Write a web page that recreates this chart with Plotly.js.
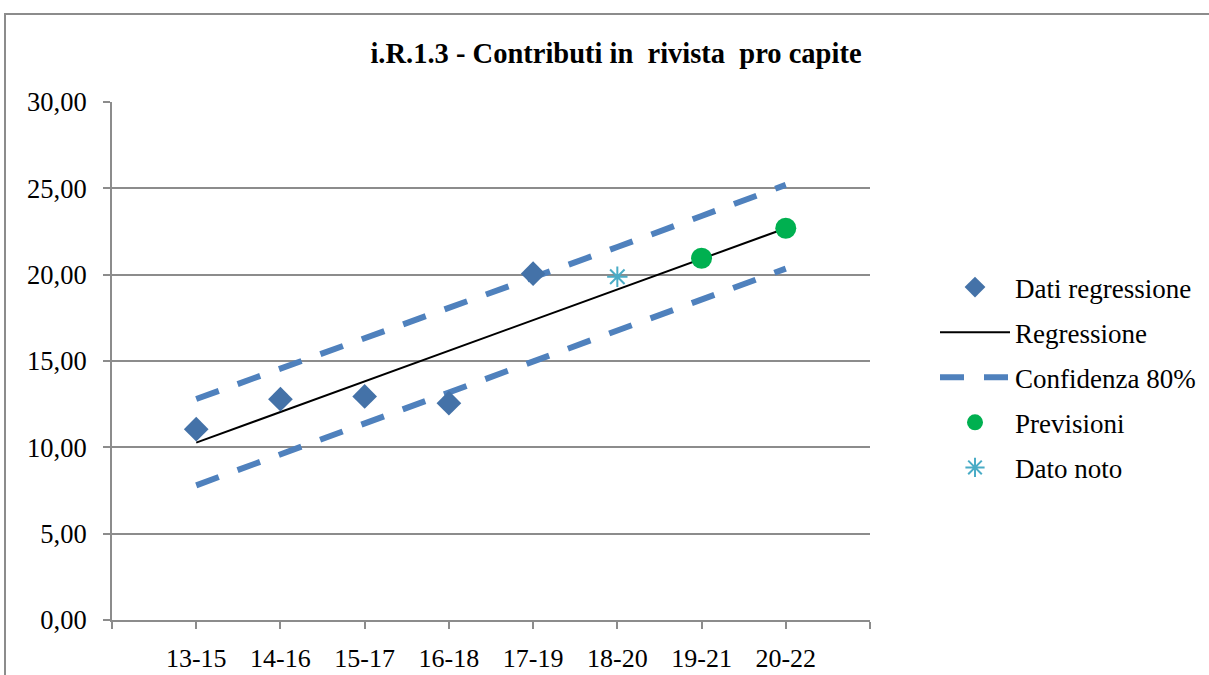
<!DOCTYPE html>
<html>
<head>
<meta charset="utf-8">
<script src="https://cdn.plot.ly/plotly-3.0.1.min.js"></script>
<style>
  html, body { margin:0; padding:0; width:1209px; height:675px; overflow:hidden; background:#fff; }
  #chart { position:absolute; left:0; top:0; width:1209px; height:675px; }
  #frame { position:absolute; left:4px; top:13px; width:1400px; height:900px; border:2px solid #8c8c8c; pointer-events:none; }
</style>
</head>
<body>
<div id="chart"></div>
<div id="frame"></div>
<script>
// ---- data ----
const categories = ["13-15", "14-16", "15-17", "16-18", "17-19", "18-20", "19-21", "20-22"];
const regressionData = [11.05, 12.79, 12.95, 12.56, 20.06];          // Dati regressione (13-15 .. 17-19)
const regressionLine = [10.27, 12.04, 13.82, 15.59, 17.37, 19.14, 20.92, 22.69];
const confUpper = [12.8, 14.55, 16.3, 18.05, 19.85, 21.6, 23.4, 25.2];
const confLower = [7.8, 9.6, 11.4, 13.2, 14.95, 16.75, 18.55, 20.35];
const forecastCats = ["19-21", "20-22"];
const forecastValues = [20.95, 22.69];
const knownCats = ["18-20"];
const knownValues = [19.88];
const yTicks = [0, 5, 10, 15, 20, 25, 30];
const title = "i.R.1.3 - Contributi in  rivista  pro capite";

// category -> position on the axis (1..n), edges at 0 and n+1
const pos = c => categories.indexOf(c) + 1;
const xAll = categories.map(pos);

const serif = "Liberation Serif, Times New Roman, serif";
const gray = "#8c8c8c";

const traces = [
  {
    name: "Dati regressione", legendgroup: "a", legendrank: 1,
    x: categories.slice(0, regressionData.length).map(pos), y: regressionData,
    mode: "markers", type: "scatter",
    marker: { symbol: "diamond", size: 19, color: "#4472a8" }
  },
  {
    name: "Regressione", legendgroup: "b", legendrank: 2,
    x: xAll, y: regressionLine, mode: "lines", type: "scatter",
    line: { color: "#000000", width: 2 }
  },
  {
    name: "Confidenza 80%", legendgroup: "c", legendrank: 3,
    x: xAll, y: confUpper, mode: "lines", type: "scatter",
    line: { color: "#4f81bd", width: 6, dash: "24px,20px" }
  },
  {
    name: "Confidenza 80%", legendgroup: "c", showlegend: false,
    x: xAll, y: confLower, mode: "lines", type: "scatter",
    line: { color: "#4f81bd", width: 6, dash: "24px,20px" }
  },
  {
    name: "Previsioni", legendgroup: "d", legendrank: 4,
    x: forecastCats.map(pos), y: forecastValues, mode: "markers", type: "scatter",
    marker: { symbol: "circle", size: 21, color: "#00b050" }
  },
  {
    name: "Dato noto", legendgroup: "e", legendrank: 5,
    x: knownCats.map(pos), y: knownValues, mode: "markers", type: "scatter",
    marker: { symbol: "asterisk-open", size: 17, color: "#4aacc6", line: { color: "#3c9bb0", width: 2 } }
  }
];

// draw lines first, markers on top
const drawOrder = [traces[1], traces[2], traces[3], traces[0], traces[4], traces[5]];

const layout = {
  width: 1209, height: 675,
  paper_bgcolor: "#ffffff", plot_bgcolor: "#ffffff",
  margin: { l: 112, r: 339, t: 102, b: 55, pad: 0 },
  separators: ",.",
  font: { family: serif, size: 26, color: "#000000" },
  title: {
    text: "<b>" + title + "</b>",
    font: { family: serif, size: 28.5, color: "#000000" },
    xref: "container", yref: "container",
    x: 616 / 1209, xanchor: "center",
    y: 1 - 53 / 675, yanchor: "middle"
  },
  xaxis: {
    range: [0, categories.length + 1],
    tickmode: "array",
    tickvals: [0].concat(xAll, [categories.length + 1]),
    ticktext: [""].concat(categories, [""]),
    showgrid: false, zeroline: false,
    showline: true, linecolor: gray, linewidth: 2,
    ticks: "outside", ticklen: 7, tickwidth: 2, tickcolor: gray,
    ticklabelstandoff: 7,
    tickfont: { family: serif, size: 26, color: "#000000" },
    fixedrange: true
  },
  yaxis: {
    range: [0, 30],
    tickmode: "array", tickvals: yTicks,
    tickformat: ".2f",
    showgrid: true, gridcolor: gray, gridwidth: 2,
    zeroline: false,
    showline: true, linecolor: gray, linewidth: 2,
    ticks: "outside", ticklen: 7, tickwidth: 2, tickcolor: gray,
    ticklabelstandoff: 11,
    tickfont: { family: serif, size: 26.5, color: "#000000" },
    fixedrange: true
  },
  legend: {
    xref: "container", yref: "container",
    x: 935 / 1209, xanchor: "left",
    y: 1 - 263 / 675, yanchor: "top",
    traceorder: "grouped", tracegroupgap: 7,
    itemwidth: 70,
    font: { family: serif, size: 27, color: "#000000" },
    bgcolor: "rgba(0,0,0,0)"
  },
  showlegend: true
};

Plotly.newPlot("chart", drawOrder, layout, { staticPlot: true, displayModeBar: false });
</script>
</body>
</html>
